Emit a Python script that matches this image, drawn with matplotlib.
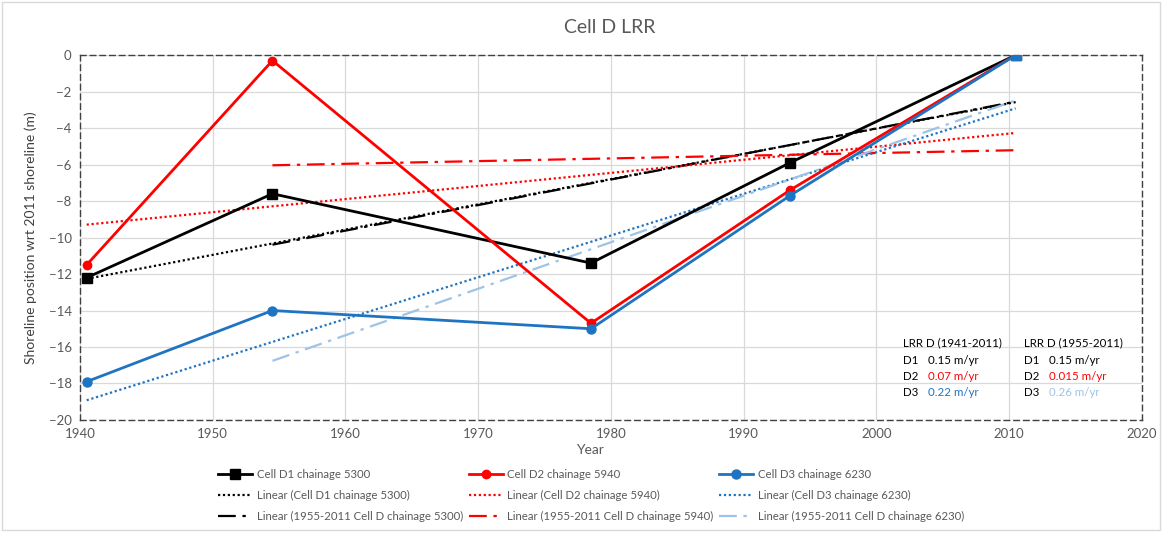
import numpy as np
import matplotlib.pyplot as plt
from matplotlib.patches import Rectangle

plt.rcParams['font.family'] = ['Lato', 'DejaVu Sans']

# survey years and shoreline position (m) relative to 2011
years = [1940.5, 1954.5, 1978.5, 1993.5, 2010.5]
d1 = [-12.2, -7.6, -11.4, -5.9, 0.0]
d2 = [-11.5, -0.3, -14.7, -7.4, 0.0]
d3 = [-17.9, -14.0, -15.0, -7.7, 0.0]

names = ['Cell D1 chainage 5300', 'Cell D2 chainage 5940', 'Cell D3 chainage 6230']
rates_all = ['0.15 m/yr', '0.07 m/yr', '0.22 m/yr']
rates_55 = ['0.15 m/yr', '0.015 m/yr', '0.26 m/yr']

gray = '#595959'
c_black, c_red, c_blue, c_light = 'black', '#FF0000', '#1F74C2', '#9DC3E6'

fig = plt.figure(figsize=(11.68, 5.35), dpi=100)
ax = fig.add_axes([0.0685, 0.215, 0.909, 0.682])

x = np.array(years)
series = [d1, d2, d3]
markers = ['s', 'o', 'o']
msizes = [6.5, 6, 6.5]
cols = [c_black, c_red, c_blue]
dash_cols = [c_black, c_red, c_light]

handles = []
for s, m, ms, c, dc, nm in zip(series, markers, msizes, cols, dash_cols, names):
    y = np.array(s)
    h1, = ax.plot(x, y, color=c, lw=2, marker=m, ms=ms, label=nm, zorder=4)
    # Excel linear trendlines: full record and 1955-2011
    p = np.polyfit(x, y, 1)
    h2, = ax.plot(x[[0, -1]], np.polyval(p, x[[0, -1]]), color=c, lw=1.6,
                  ls=(0, (1, 1.2)), label='Linear (%s)' % nm, zorder=3)
    p2 = np.polyfit(x[1:], y[1:], 1)
    h3, = ax.plot(x[[1, -1]], np.polyval(p2, x[[1, -1]]), color=dc, lw=1.6,
                  ls=(0, (8, 3, 1.5, 3)),
                  label='Linear (1955-2011 Cell D chainage %s)' % nm[-4:], zorder=3)
    handles += [h1, h2, h3]

# last point is shown as a blue square in the original
ax.plot(x[-1], d3[-1], marker='s', ms=6.5, color=c_blue, zorder=5)

ax.set_xlim(1940, 2020)
ax.set_ylim(-20, 0)
ax.set_xticks(range(1940, 2021, 10))
ax.set_yticks(range(-20, 1, 2))
ax.grid(True, color='#D9D9D9', lw=0.9)
ax.set_axisbelow(True)
ax.tick_params(length=0, labelsize=9.5, labelcolor=gray, pad=6)
for sp in ax.spines.values():
    sp.set_linestyle((0, (4, 3)))
    sp.set_color('#404040')
    sp.set_linewidth(1)

ax.set_ylabel('Shoreline position wrt 2011 shoreline (m)', fontsize=10, color='#404040', labelpad=8)
fig.text(0.505, 0.159, 'Year', ha='center', va='center', fontsize=10, color=gray)
fig.text(0.522, 0.948, 'Cell D LRR', ha='center', va='center', fontsize=14, color=gray)

# LRR annotation boxes
rate_cols = [[c_black, c_red, c_blue], [c_black, c_red, c_light]]
for xt, head, rates, rc in [(0.775, 'LRR D (1941-2011)', rates_all, rate_cols[0]),
                            (0.889, 'LRR D (1955-2011)', rates_55, rate_cols[1])]:
    ax.text(xt, 0.211, head, transform=ax.transAxes, fontsize=8.3, va='center')
    for i, (r, c) in enumerate(zip(rates, rc)):
        yy = 0.164 - i * 0.044
        ax.text(xt, yy, 'D%d' % (i + 1), transform=ax.transAxes, fontsize=8.3, va='center')
        ax.text(xt + 0.0235, yy, r, transform=ax.transAxes, fontsize=8.3, va='center', color=c)

leg = fig.legend(handles=handles, loc='upper center', bbox_to_anchor=(0.506, 0.142),
                 ncol=3, frameon=False, fontsize=8.2, handlelength=3.0,
                 columnspacing=0.5, labelspacing=0.85, handletextpad=0.4)
for t in leg.get_texts():
    t.set_color(gray)

fig.patches.append(Rectangle((0.002, 0.01), 0.991, 0.986, transform=fig.transFigure,
                             fill=False, ec='#D9D9D9', lw=1))

fig.savefig('out.png', dpi=100)
